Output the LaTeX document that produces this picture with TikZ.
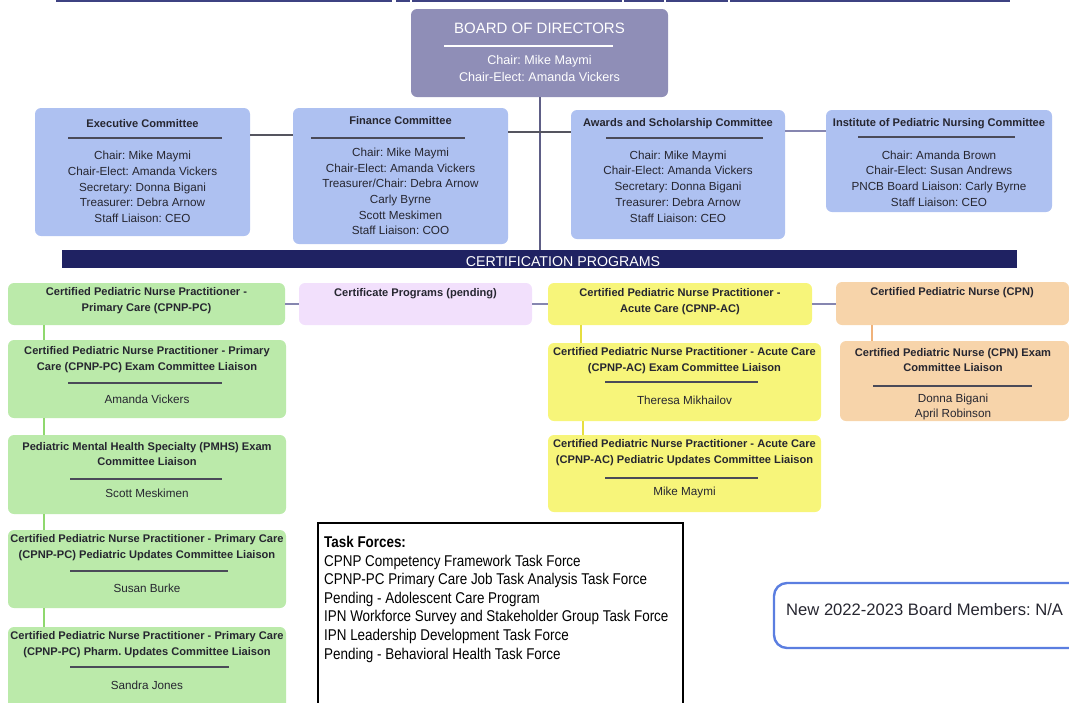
\documentclass[tikz,border=0pt]{standalone}
\usepackage{fontspec}
\setmainfont{Liberation Sans}
\newfontfamily\narrowfont[FakeStretch=0.86]{Liberation Sans}
\usetikzlibrary{calc}
\frenchspacing
\definecolor{boardc}{HTML}{8F8EB7}
\definecolor{commc}{HTML}{AEC1F1}
\definecolor{navyc}{HTML}{1F2262}
\definecolor{greenc}{HTML}{BBEAAA}
\definecolor{lavc}{HTML}{F2E0FC}
\definecolor{yelc}{HTML}{F7F57A}
\definecolor{peachc}{HTML}{F7D4AA}
\definecolor{txtc}{HTML}{262630}
\definecolor{rulec}{HTML}{4A4A58}
\definecolor{linkc}{HTML}{55555F}
\definecolor{linkb}{HTML}{8686B0}
\definecolor{spinec}{HTML}{5E5E86}
\definecolor{greenl}{HTML}{8FD86E}
\definecolor{yell}{HTML}{E6DE40}
\definecolor{peachl}{HTML}{F0B27A}
\definecolor{newc}{HTML}{5B7EE0}
\definecolor{stripc}{HTML}{3E4282}
\newcommand{\panel}[6]{\node[#6, anchor=north west, minimum width=#4-#2, minimum height=#5-#3] (#1) at (#2,#3) {};}
\tikzset{
  box/.style={rounded corners=6, inner sep=0, outer sep=0, draw=none},
  ttl/.style={font=\frenchspacing\bfseries\fontsize{11.1}{15.8}\selectfont, text=txtc, align=center, inner sep=0},
  bdy/.style={font=\frenchspacing\fontsize{11.7}{15.7}\selectfont, text=txtc, align=center, inner sep=0},
  crule/.style={draw=rulec, line width=1.6},
  conn/.style={line width=1.3},
}
\begin{document}
\begin{tikzpicture}[x=1pt,y=-1pt]
\useasboundingbox (0,0) rectangle (1069,702);
% top strip remnant
\fill[stripc] (56,0) rectangle (392,2.4);
\fill[stripc] (396,0) rectangle (410,2.4);
\fill[stripc] (412,0) rectangle (622,2.4);
\fill[stripc] (624,0) rectangle (664,2.4);
\fill[stripc] (666,0) rectangle (728,2.4);
\fill[stripc] (730,0) rectangle (1010,2.4);

% board
\panel{board}{411}{9}{668}{97}{box, fill=boardc}
\node[font=\fontsize{15}{16}\selectfont, text=white, inner sep=0] (bt) at (539.5,28) {BOARD OF DIRECTORS};
\draw[white, line width=1.4] (444,46) -- (613,46);
\node[font=\frenchspacing\fontsize{12.6}{17}\selectfont, text=white, align=center, inner sep=0] (bb) at (539.5,68.5) {Chair: Mike Maymi\\Chair-Elect: Amanda Vickers};

% committees
\panel{exec}{35}{108}{250}{236}{box, fill=commc}
\node[ttl] (exect) at (142.5,124) {Executive Committee};
\draw[crule] (68,138) -- (222,138);
\node[bdy] (execb) at (142.5,187) {Chair: Mike Maymi\\Chair-Elect: Amanda Vickers\\Secretary: Donna Bigani\\Treasurer: Debra Arnow\\Staff Liaison: CEO};

\panel{fin}{293}{108}{508}{244}{box, fill=commc}
\node[ttl] (fint) at (400.5,121) {Finance Committee};
\draw[crule] (311,138) -- (465,138);
\node[bdy] (finb) at (400.5,191.5) {Chair: Mike Maymi\\Chair-Elect: Amanda Vickers\\Treasurer/Chair: Debra Arnow\\Carly Byrne\\Scott Meskimen\\Staff Liaison: COO};

\panel{aw}{571}{110}{785}{239}{box, fill=commc}
\node[ttl] (awt) at (678,124) {Awards and Scholarship Committee};
\draw[crule] (606,138) -- (763,138);
\node[bdy] (awb) at (678,186.5) {Chair: Mike Maymi\\Chair-Elect: Amanda Vickers\\Secretary: Donna Bigani\\Treasurer: Debra Arnow\\Staff Liaison: CEO};

\panel{ipn}{826}{110}{1052}{212}{box, fill=commc}
\node[ttl] (ipnt) at (939,124) {Institute of Pediatric Nursing Committee};
\draw[crule] (858,137) -- (1015,137);
\node[bdy] (ipnb) at (939,178.5) {Chair: Amanda Brown\\Chair-Elect: Susan Andrews\\PNCB Board Liaison: Carly Byrne\\Staff Liaison: CEO};

% certification bar
\panel{cert}{62}{250}{1017}{268}{inner sep=0, outer sep=0, fill=navyc}
\node[font=\fontsize{14.2}{15}\selectfont, text=white, inner sep=0] (certt) at (563,261.5) {CERTIFICATION PROGRAMS};

% spine and committee links
\coordinate (j) at (540,132);
\draw[spinec, conn] (board.south -| 540,0) -- (cert.north -| 540,0);
\draw[linkc, conn] (exec.east |- 0,135) -- (fin.west |- 0,135);
\draw[linkc, conn] (fin.east |- j) -- (j);
\draw[linkc, conn] (j) -- (aw.west |- j);
\draw[linkb, conn] (aw.east |- 0,131) -- (ipn.west |- 0,131);

% certification row
\panel{pc}{8}{283}{285}{325}{box, fill=greenc}
\node[ttl] (pct) at (146.5,301) {Certified Pediatric Nurse Practitioner -\\Primary Care (CPNP-PC)};
\panel{pend}{299}{283}{532}{325}{box, fill=lavc}
\node[ttl] (pendt) at (415.5,294) {Certificate Programs (pending)};
\panel{ac}{548}{283}{812}{325}{box, fill=yelc}
\node[ttl] (act) at (680,301.5) {Certified Pediatric Nurse Practitioner -\\Acute Care (CPNP-AC)};
\panel{cpn}{836}{282}{1069}{325}{box, fill=peachc}
\node[ttl] (cpnt) at (952,293) {Certified Pediatric Nurse (CPN)};
\draw[linkb, conn] (pc.east |- 0,304) -- (pend.west |- 0,304);
\draw[linkb, conn] (pend.east |- 0,304) -- (ac.west |- 0,304);
\draw[linkb, conn] (ac.east |- 0,304) -- (cpn.west |- 0,304);

% green column
\panel{pc1}{8}{340}{286}{418}{box, fill=greenc}
\node[ttl] (pc1t) at (147,359.5) {Certified Pediatric Nurse Practitioner - Primary\\Care (CPNP-PC) Exam Committee Liaison};
\draw[crule] (68,383) -- (222,383);
\node[bdy] (pc1b) at (147,399) {Amanda Vickers};

\panel{pc2}{8}{435}{286}{514}{box, fill=greenc}
\node[ttl] (pc2t) at (147,454) {Pediatric Mental Health Specialty (PMHS) Exam\\Committee Liaison};
\draw[crule] (70,479) -- (222,479);
\node[bdy] (pc2b) at (147,493) {Scott Meskimen};

\panel{pc3}{8}{530}{286}{608}{box, fill=greenc}
\node[ttl] (pc3t) at (147,548) {Certified Pediatric Nurse Practitioner - Primary Care\\(CPNP-PC) Pediatric Updates Committee Liaison};
\draw[crule] (70,571) -- (228,571);
\node[bdy] (pc3b) at (147,588) {Susan Burke};

\panel{pc4}{8}{627}{286}{712}{box, fill=greenc}
\node[ttl] (pc4t) at (147,645) {Certified Pediatric Nurse Practitioner - Primary Care\\(CPNP-PC) Pharm. Updates Committee Liaison};
\draw[crule] (70,667) -- (229,667);
\node[bdy] (pc4b) at (147,685) {Sandra Jones};

\draw[greenl, line width=2] (pc.south -| 44,0) -- (pc1.north -| 44,0);
\draw[greenl, line width=2] (pc1.south -| 44,0) -- (pc2.north -| 44,0);
\draw[greenl, line width=2] (pc2.south -| 44,0) -- (pc3.north -| 44,0);
\draw[greenl, line width=2] (pc3.south -| 44,0) -- (pc4.north -| 44,0);

% yellow column
\panel{ac1}{548}{343}{821}{421}{box, fill=yelc}
\node[ttl] (ac1t) at (684.5,361) {Certified Pediatric Nurse Practitioner - Acute Care\\(CPNP-AC) Exam Committee Liaison};
\draw[crule] (605,382) -- (758,382);
\node[bdy] (ac1b) at (684.5,400) {Theresa Mikhailov};

\panel{ac2}{548}{435}{821}{512}{box, fill=yelc}
\node[ttl] (ac2t) at (684.5,453) {Certified Pediatric Nurse Practitioner - Acute Care\\(CPNP-AC) Pediatric Updates Committee Liaison};
\draw[crule] (605,478) -- (758,478);
\node[bdy] (ac2b) at (684.5,492) {Mike Maymi};

\draw[yell, line width=2] (ac.south -| 581,0) -- (ac1.north -| 581,0);
\draw[yell, line width=2] (ac1.south -| 583,0) -- (ac2.north -| 583,0);

% CPN exam
\panel{cpn1}{840}{341}{1069}{421}{box, fill=peachc}
\node[ttl] (cpn1t) at (953,360) {Certified Pediatric Nurse (CPN) Exam\\Committee Liaison};
\draw[crule] (873,386) -- (1032,386);
\node[bdy] (cpn1b) at (953,407) {Donna Bigani\\April Robinson};
\draw[peachl, line width=2] (cpn.south -| 872,0) -- (cpn1.north -| 872,0);

% task forces
\panel{task}{318}{523}{683}{704}{draw=black, line width=1.2, inner sep=0, outer sep=0}
\node[anchor=north west, align=left, inner sep=0, text=black, font=\narrowfont\fontsize{15.6}{18.6}\selectfont] (taskt) at (324,536) {{\bfseries Task Forces:}\\CPNP Competency Framework Task Force\\CPNP-PC Primary Care Job Task Analysis Task Force\\Pending - Adolescent Care Program\\IPN Workforce Survey and Stakeholder Group Task Force\\IPN Leadership Development Task Force\\Pending - Behavioral Health Task Force};

% new board members
\panel{newb}{774}{583}{1082}{648}{draw=newc, line width=2.4, rounded corners=13, inner sep=0, outer sep=0}
\node[anchor=west, inner sep=0, text=txtc, font=\frenchspacing\fontsize{16.6}{18}\selectfont] (newt) at (786,610) {New 2022-2023 Board Members: N/A};
\end{tikzpicture}
\end{document}
